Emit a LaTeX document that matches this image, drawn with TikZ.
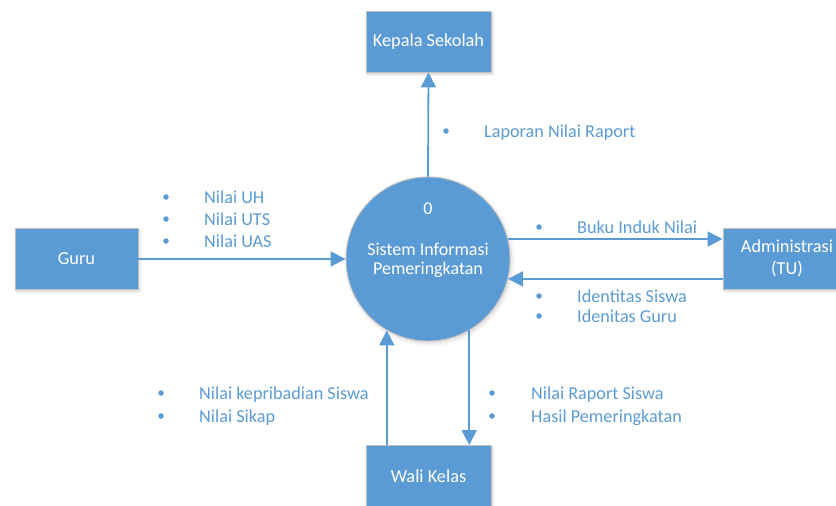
\documentclass[tikz,border=0pt]{standalone}
\usepackage{fontspec}
\setmainfont{Carlito}
\usetikzlibrary{arrows.meta,shadows.blur,calc}

\definecolor{officeblue}{HTML}{5B9BD5}
\definecolor{edgegray}{HTML}{BFBFBF}

\tikzset{
  entity/.style={rectangle, fill=officeblue, draw=edgegray, line width=0.9pt,
    minimum width=125pt, minimum height=61pt, inner sep=0pt,
    text=white, font=\fontsize{18.3}{22}\selectfont, align=center,
    blur shadow={shadow xshift=1.5pt, shadow yshift=-2pt, shadow opacity=18, shadow blur radius=3pt}},
  process/.style={circle, fill=officeblue, draw=edgegray, line width=0.9pt,
    minimum size=164pt, inner sep=0pt,
    blur shadow={shadow xshift=1.5pt, shadow yshift=-2pt, shadow opacity=18, shadow blur radius=4pt}},
  proctext/.style={text=white, font=\fontsize{18}{22}\selectfont, inner sep=0pt},
  flow/.style={draw=officeblue, line width=1.8pt,
    -{Triangle[length=15pt,width=15pt]}},
  dot/.style={circle, fill=officeblue, inner sep=0pt, minimum size=5.5pt},
  flowlabel/.style={text=officeblue, font=\fontsize{18.2}{22}\selectfont,
    inner sep=0pt, anchor=base west},
}

\begin{document}
\begin{tikzpicture}[x=1pt,y=-1pt]
  \useasboundingbox (0,0) rectangle (836,506);

  % external entities and the process
  \node[entity] (kepala) at (428.5,41.5) {Kepala Sekolah};
  \node[entity, minimum width=123pt] (guru) at (76.5,259) {Guru};
  \node[entity, minimum width=128pt] (admin) at (787,258.5) {Administrasi\\(TU)};
  \node[entity] (wali) at (428.5,476) {Wali Kelas};
  \node[process] (sys) at (428,259) {};

  \node[proctext] (pnum) at ($(sys.center)+(0,-50)$) {0};
  \node[proctext] (pname1) at ($(sys.center)+(0,-10)$) {Sistem Informasi};
  \node[proctext] (pname2) at ($(sys.center)+(0,11)$) {Pemeringkatan};

  % data flows
  \draw[flow] (sys.north) -- (kepala.south);
  \draw[flow] (guru.east) -- (sys.west);
  \draw[flow] (sys.14.8) -- (sys.14.8 -| admin.west);
  \draw[flow] (sys.-14.1 -| admin.west) -- (sys.-14.1);
  \draw[flow] (sys.240 |- wali.north) -- (sys.240);
  \draw[flow] (sys.300) -- (sys.300 |- wali.north);

  % flow labels: Kepala Sekolah
  \node[dot] (d1) at (446,131) {};
  \node[flowlabel] (l1) at (484,137) {Laporan Nilai Raport};

  % flow labels: Guru
  \node[dot] (d2) at (166,197) {};
  \node[dot] (d3) at (166,219) {};
  \node[dot] (d4) at (166,241) {};
  \node[flowlabel] (l2) at (204,203) {Nilai UH};
  \node[flowlabel] (l3) at (204,225) {Nilai UTS};
  \node[flowlabel] (l4) at (204,247) {Nilai UAS};

  % flow labels: Administrasi (TU)
  \node[dot] (d5) at (539,227) {};
  \node[flowlabel] (l5) at (577,233) {Buku Induk Nilai};
  \node[dot] (d6) at (539,296) {};
  \node[dot] (d7) at (539,316) {};
  \node[flowlabel] (l6) at (577,302) {Identitas Siswa};
  \node[flowlabel] (l7) at (577,322) {Idenitas Guru};

  % flow labels: Wali Kelas
  \node[dot] (d8) at (161,393) {};
  \node[dot] (d9) at (161,416) {};
  \node[flowlabel] (l8) at (199,399) {Nilai kepribadian Siswa};
  \node[flowlabel] (l9) at (199,422) {Nilai Sikap};
  \node[dot] (d10) at (492,393) {};
  \node[dot] (d11) at (492,416) {};
  \node[flowlabel] (l10) at (531,399) {Nilai Raport Siswa};
  \node[flowlabel] (l11) at (531,422) {Hasil Pemeringkatan};
\end{tikzpicture}
\end{document}
